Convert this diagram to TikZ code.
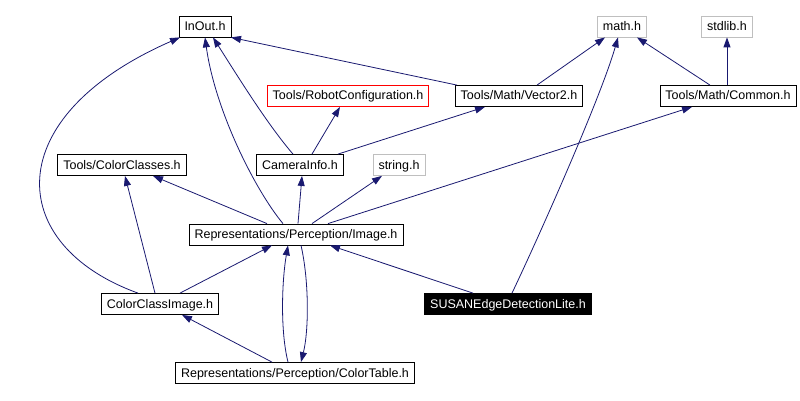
\documentclass[tikz,border=0pt]{standalone}
\usepackage{fontspec}
\setmainfont{Liberation Sans}
\usetikzlibrary{arrows.meta}
\definecolor{edgeblue}{HTML}{191970}
\definecolor{sysgray}{HTML}{BFBFBF}

\begin{document}
\begin{tikzpicture}[x=1pt,y=-1pt,>={Triangle[length=10pt,width=7pt]},
    dep/.style={draw=edgeblue,line width=0.8pt},
    every edge/.style={dep}]
            \useasboundingbox (0,0) rectangle (800,401);
            \begin{scope}[every node/.style={rectangle,draw=black,line width=0.8pt,font=\fontsize{12.5}{14}\selectfont,inner xsep=5.5pt,inner ysep=0pt,text height=9pt,text depth=1pt,minimum height=21pt}]
                \node (inout) at (205,26.5) {InOut.h};
                \node (mathh) [draw=sysgray] at (622,26.5) {math.h};
                \node (stdlibh) [draw=sysgray] at (727,26.5) {stdlib.h};
                \node (robotcfg) [draw=red] at (348,96) {Tools/RobotConfiguration.h};
                \node (vector2) at (519,96) {Tools/Math/Vector2.h};
                \node (common) at (728,96) {Tools/Math/Common.h};
                \node (colorclasses) at (122,165) {Tools/ColorClasses.h};
                \node (camerainfo) at (300,165) {CameraInfo.h};
                \node (stringh) [draw=sysgray] at (399,165) {string.h};
                \node (image) at (296,234.5) {Representations/Perception/Image.h};
                \node (colorclassimage) at (160,304) {ColorClassImage.h};
                \node (susan) [fill=black,text=white] at (508,304) {SUSANEdgeDetectionLite.h};
                \node (colortable) at (295,373) {Representations/Perception/ColorTable.h};
            \end{scope}
            % includes of InOut.h
            \draw[dep,->] ([xshift=-22pt]colorclassimage.north) .. controls (5,245) and (-2,117) .. ([xshift=-25pt]inout.south);
            \draw[dep,->] ([xshift=-13pt]image.north) .. controls (255,190) and (215,110) .. (inout.south);
            \draw[dep,->] ([xshift=-7pt]camerainfo.north) .. controls (268,125) and (240,80) .. ([xshift=8pt]inout.south);
            \draw ([xshift=-62pt]vector2.north) edge [->] ([xshift=26pt]inout.south);
            % upper row
            \draw ([xshift=12pt]camerainfo.north) edge [->] ([xshift=-8pt]robotcfg.south);
            \draw ([xshift=38pt]camerainfo.north) edge [->] ([xshift=-34pt]vector2.south);
            \draw ([xshift=18pt]vector2.north) edge [->] ([xshift=-17pt]mathh.south);
            \draw ([xshift=-18pt]common.north) edge [->] ([xshift=15pt]mathh.south);
            \draw ([xshift=-1pt]common.north) edge [->] (stdlibh.south);
            \draw[dep,->] ([xshift=4pt]susan.north) .. controls (535,245) and (600,100) .. ([xshift=-4pt]mathh.south);
            % includes of Image.h
            \draw ([xshift=-29pt]image.north) edge [->] ([xshift=31pt]colorclasses.south);
            \draw ([xshift=2pt]image.north) edge [->] ([xshift=2pt]camerainfo.south);
            \draw ([xshift=16pt]image.north) edge [->] ([xshift=-17pt]stringh.south);
            \draw ([xshift=32pt]image.north) edge [->] ([xshift=-36pt]common.south);
            % lower part
            \draw ([xshift=-5pt]colorclassimage.north) edge [->] ([xshift=3pt]colorclasses.south);
            \draw ([xshift=20pt]colorclassimage.north) edge [->] ([xshift=-24pt]image.south);
            \draw ([xshift=-35pt]susan.north) edge [->] ([xshift=34pt]image.south);
            \draw[dep,->] ([xshift=-7pt]colortable.north) .. controls (280,330) and (282,280) .. ([xshift=-8pt]image.south);
            \draw[dep,->] ([xshift=5pt]image.south) .. controls (309,280) and (309,330) .. ([xshift=6pt]colortable.north);
            \draw ([xshift=-23pt]colortable.north) edge [->] ([xshift=22pt]colorclassimage.south);
        \end{tikzpicture}
\end{document}
